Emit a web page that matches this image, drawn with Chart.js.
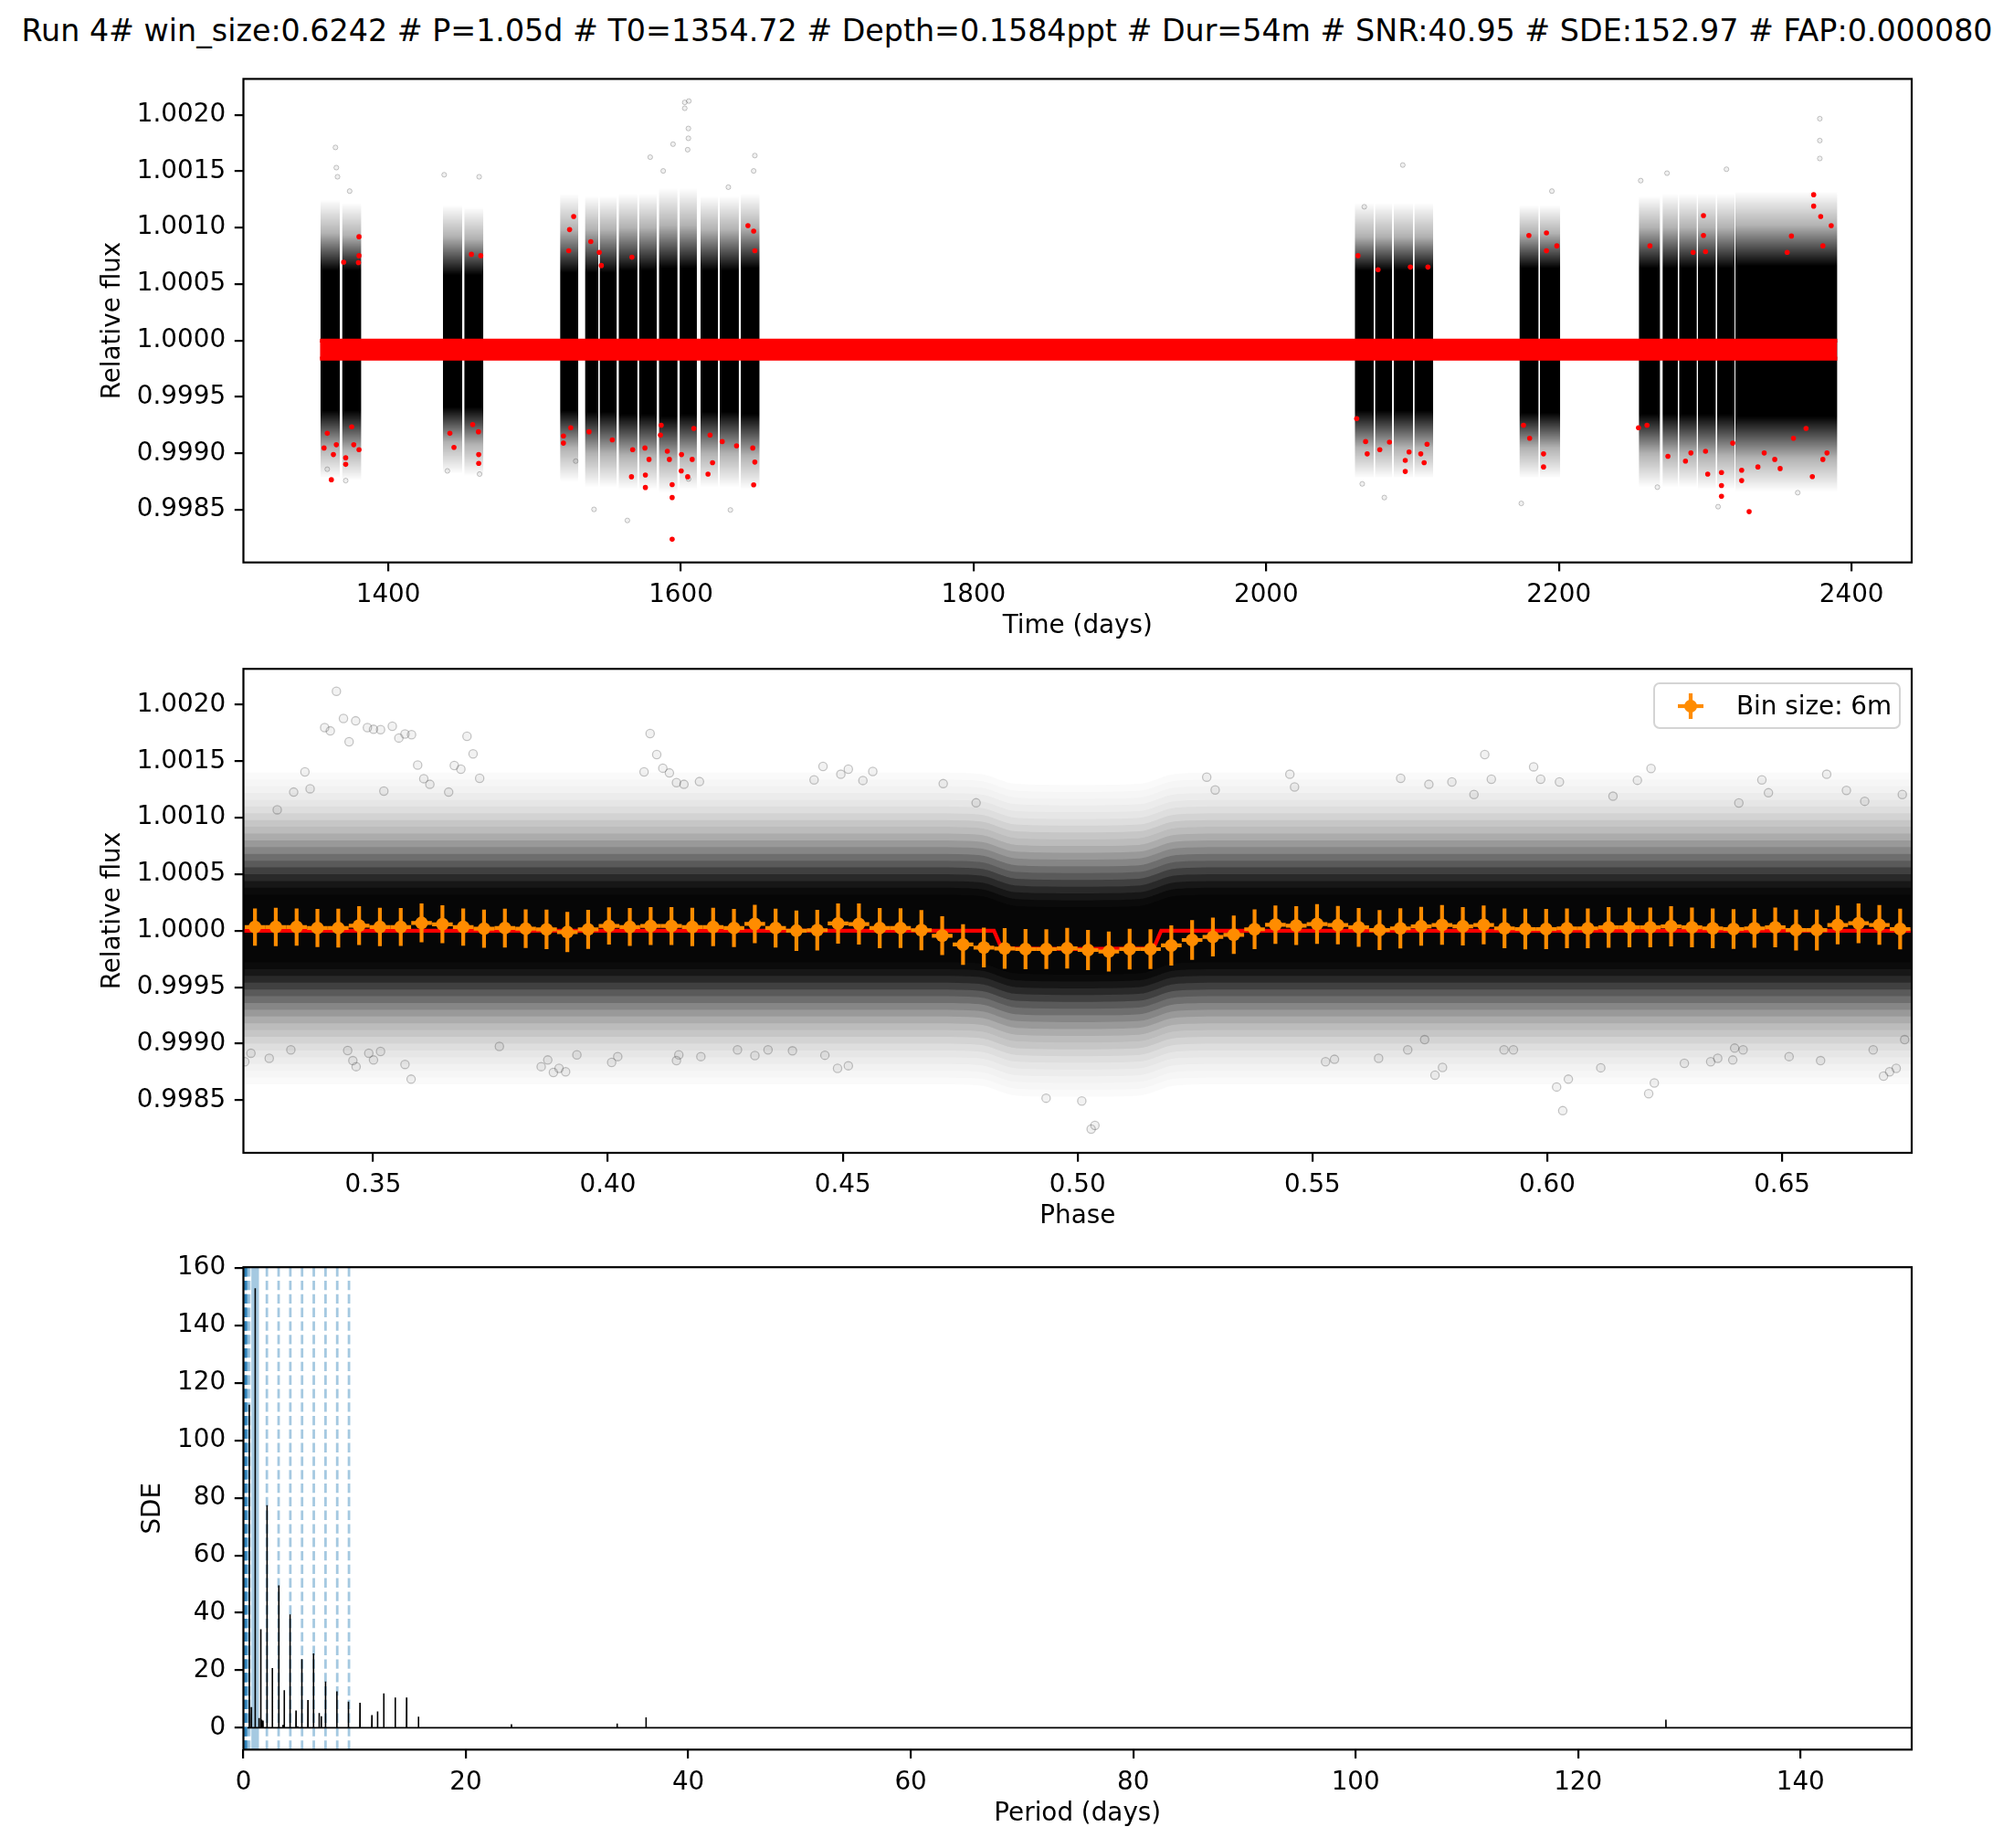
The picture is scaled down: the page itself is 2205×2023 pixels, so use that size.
<!DOCTYPE html>
<html>
<head>
<meta charset="utf-8">
<title>TLS Run 4</title>
<script src="https://cdn.jsdelivr.net/npm/chart.js@4.4.1/dist/chart.umd.min.js"></script>
<style>
  html,body{margin:0;padding:0;background:#ffffff;}
  body{width:2205px;height:2023px;position:relative;overflow:hidden;font-family:"DejaVu Sans",sans-serif;color:#000;}
  #title{position:absolute;left:0;top:14px;width:2205px;text-align:center;font-size:33.3px;line-height:40px;white-space:nowrap;}
  canvas.panel{position:absolute;left:0;}
  #legend{position:absolute;left:1810px;top:747px;width:271px;height:51px;box-sizing:border-box;border:2px solid #d4d4d4;border-radius:7px;background:rgba(255,255,255,0.85);z-index:5;}
  #legsym{position:absolute;left:18px;top:4px;}
  #legtext{position:absolute;left:89px;top:4px;font-size:27.8px;line-height:40px;white-space:nowrap;}
</style>
</head>
<body>
<div id="title">Run 4# win_size:0.6242 # P=1.05d # T0=1354.72 # Depth=0.1584ppt # Dur=54m # SNR:40.95 # SDE:152.97 # FAP:0.000080</div>
<canvas id="c1" class="panel" width="2205" height="650" style="top:59px"></canvas>
<canvas id="c2" class="panel" width="2205" height="650" style="top:705px"></canvas>
<canvas id="c3" class="panel" width="2205" height="650" style="top:1360px"></canvas>
<div id="legend"><canvas id="legsym" width="42" height="40"></canvas><span id="legtext">Bin size: 6m</span></div>
<script>
// ===================== DATA =====================
// ---- axes ----
const timeRange = [1301.0, 2441.1];
const fluxRange = [0.998034, 1.002318];
const phaseRange = [0.3224, 0.6776];
const periodRange = [0, 150];
const sdeRange = [-7.6, 160.3];
const timeTicks = [1400, 1600, 1800, 2000, 2200, 2400];
const fluxTicks = [0.9985, 0.9990, 0.9995, 1.0000, 1.0005, 1.0010, 1.0015, 1.0020];
const phaseTicks = [0.35, 0.40, 0.45, 0.50, 0.55, 0.60, 0.65];
const periodTicks = [0, 20, 40, 60, 80, 100, 120, 140];
const sdeTicks = [0, 20, 40, 60, 80, 100, 120, 140, 160];

// ---- panel 1: light curve observing segments (days) and flux density envelope ----
const segStart = [1353.6,1368.4,1437.3,1451.9,1517.4,1534.4,1544.4,1557.4,1571.3,1584.9,1599.1,1613.4,1626.5,1640.9,2060.5,2074.3,2087.1,2101.2,2173.0,2187.0,2254.6,2270.8,2282.1,2295.0,2308.0,2320.6];
const segEnd   = [1367.0,1381.6,1450.6,1465.0,1529.9,1543.6,1556.2,1570.3,1583.5,1597.7,1610.9,1625.3,1639.6,1653.8,2073.5,2086.1,2100.3,2114.1,2186.2,2200.9,2269.2,2281.3,2294.3,2307.3,2320.1,2390.3];
const segOuterHi = [1.00125,1.00122,1.00120,1.00118,1.00130,1.00128,1.00128,1.00130,1.00130,1.00135,1.00135,1.00128,1.00128,1.00130,1.00122,1.00122,1.00122,1.00122,1.00120,1.00120,1.00128,1.00130,1.00130,1.00130,1.00130,1.00132];
const segHaloHi  = [1.00095,1.00093,1.00092,1.00090,1.00098,1.00098,1.00098,1.00100,1.00100,1.00102,1.00102,1.00098,1.00098,1.00100,1.00092,1.00092,1.00092,1.00092,1.00095,1.00095,1.00100,1.00100,1.00100,1.00100,1.00100,1.00102];
const segCoreHi  = [1.00062,1.00062,1.00058,1.00058,1.00060,1.00060,1.00060,1.00062,1.00062,1.00064,1.00064,1.00062,1.00062,1.00064,1.00062,1.00062,1.00062,1.00062,1.00064,1.00064,1.00064,1.00064,1.00064,1.00064,1.00064,1.00066];
const segCoreLo  = [0.99938,0.99938,0.99941,0.99941,0.99938,0.99937,0.99937,0.99935,0.99935,0.99933,0.99935,0.99937,0.99937,0.99935,0.99938,0.99938,0.99938,0.99938,0.99936,0.99936,0.99935,0.99935,0.99935,0.99935,0.99935,0.99933];
const segHaloLo  = [0.99905,0.99903,0.99910,0.99908,0.99905,0.99900,0.99900,0.99898,0.99898,0.99895,0.99898,0.99900,0.99900,0.99898,0.99905,0.99905,0.99905,0.99905,0.99905,0.99905,0.99900,0.99900,0.99900,0.99898,0.99898,0.99896];
const segOuterLo = [0.99878,0.99876,0.99882,0.99880,0.99875,0.99870,0.99870,0.99868,0.99868,0.99865,0.99868,0.99870,0.99870,0.99868,0.99878,0.99878,0.99878,0.99878,0.99878,0.99878,0.99870,0.99870,0.99870,0.99868,0.99868,0.99866];

// sparse grey points outside the dense clouds
const p1GreyTime = [1363.9,1364.5,1365.3,1373.6,1438.2,1462.1,1602.6,1602.6,1605.4,1605.1,1605.1,1604.6,1594.6,1579.0,1587.9,1650.5,1649.7,1632.4,1633.8,1563.4,1540.6,1605.2,1358.3,1370.9,1440.4,1462.4,1528.1,2378.3,2378.3,2378.3,2093.3,2314.5,2273.9,2255.9,2067.0,2195.2,2308.8,2267.3,2080.7,2174.3,2065.6,2363.2];
const p1GreyFlux = [1.001711,1.001532,1.001451,1.001324,1.001469,1.001451,1.002058,1.002110,1.002122,1.001792,1.001879,1.001691,1.001740,1.001625,1.001503,1.001639,1.001503,1.001359,0.998499,0.998406,0.998504,0.998773,0.998860,0.998759,0.998845,0.998817,0.998932,1.001966,1.001772,1.001613,1.001555,1.001518,1.001483,1.001417,1.001185,1.001324,0.998528,0.998701,0.998609,0.998557,0.998730,0.998652];

// red (in-transit) points visible outside the dense clouds
const redTime = [1361.1,1362.5,1370.9,1370.9,1380.0,1356.1,1364.5,1376.4,1358.3,1375.0,1380.0,1380.0,1369.5,1379.6,1444.9,1461.8,1461.8,1442.1,1457.7,1461.6,1456.8,1463.2,1526.7,1523.9,1523.3,1538.4,1544.2,1545.6,1566.5,1645.8,1649.7,1650.5,1594.0,1594.0,1594.0,1575.7,1575.7,1566.2,1604.6,1600.2,1607.7,1618.5,1621.6,1649.7,1650.5,1628.2,1519.7,1519.7,1524.7,1537.2,1553.1,1578.2,1586.0,1590.7,1592.1,1600.4,1638.0,1649.1,1575.4,1567.0,1586.5,1619.9,1608.8,
  2069.0,2077.6,2084.2,2095.0,2095.0,2097.6,2107.9,2109.9,2105.6,2067.9,2061.8,2062.7,2076.4,2098.5,2110.5,2179.5,2191.5,2198.6,2191.5,2189.5,2189.5,2180.0,2175.8,2298.8,2298.8,2291.7,2300.2,2374.1,2374.1,2378.9,2386.1,2358.9,2356.0,2380.4,2262.2,2254.4,2260.2,2274.5,2286.5,2301.7,2311.1,2311.1,2311.1,2330.0,2324.9,2324.9,2336.0,2347.5,2351.2,2373.2,2383.2,2380.4,2340.3,2318.8,2300.2,2290.2,2360.3,2368.9];
const redFlux = [0.998767,0.998990,0.998903,0.998961,0.999033,0.999048,0.999077,0.999077,0.999178,0.999235,1.000920,1.000752,1.000694,1.000690,0.999053,0.998912,0.998990,0.999178,0.999256,0.999192,1.000764,1.000752,1.001099,1.000983,1.000795,1.000876,1.000781,1.000665,1.000738,1.001018,1.000969,1.000795,0.998239,0.998609,0.998724,0.998808,0.998698,0.998793,0.998793,0.998845,0.998947,0.998817,0.998918,0.998721,0.998923,0.999105,0.999091,0.999155,0.999227,0.999192,0.999120,0.998947,0.999163,0.999019,0.998947,0.998990,0.999068,0.999048,0.999048,0.999033,0.999250,0.999163,0.999221,
  0.998996,0.999033,0.999100,0.998840,0.998938,0.999013,0.998918,0.999082,0.998996,0.999105,0.999308,1.000752,1.000628,1.000651,1.000651,1.000931,1.000954,1.000839,1.000796,0.998880,0.998996,0.999134,0.999250,1.001107,1.000931,1.000781,1.000787,1.001292,1.001191,1.001099,1.001018,1.000926,1.000781,1.000839,1.000839,0.999227,0.999250,0.998975,0.998932,0.998817,0.998831,0.998715,0.998620,0.998484,0.998851,0.998759,0.998880,0.998947,0.998866,0.998794,0.999004,0.998947,0.999004,0.999091,0.999019,0.999004,0.999134,0.999221];

// transit model over the time span (out-of-transit level and in-transit level)
const modelTime = [1353.3, 2390.2];
const modelTop = [1.0, 1.0];
const modelBottom = [0.99984, 0.99984];

// ---- panel 2: phase-folded ----
const cloudPhase  = [0.3224,0.40,0.47,0.479,0.487,0.50,0.513,0.521,0.53,0.60,0.6776];
const cloudCenter = [1.00002,1.00002,1.00002,1.00001,0.99992,0.99991,0.99992,1.00001,1.00002,1.00002,1.00002];
// density of the folded cloud: half-width from the centre and how dark the cloud is inside it
const cloudLevelOffset   = [0.00138,0.00132,0.00126,0.00120,0.00114,0.00108,0.00102,0.00096,0.00090,0.00084,0.00078,0.00072,0.00066,0.00060,0.00054,0.00048,0.00042,0.00036,0.00030];
const cloudLevelDarkness = [0.02,0.04,0.06,0.085,0.11,0.14,0.18,0.23,0.28,0.34,0.41,0.49,0.58,0.67,0.77,0.86,0.93,0.97,0.99];

const p2OutPhase = [0.3422,0.3437,0.3463,0.3397,0.3409,0.3449,0.3488,0.3501,0.3516,0.3541,0.3555,0.3568,0.3582,0.3700,0.3713,0.4090,0.4104,0.3595,0.3673,0.3687,0.3727,0.3355,0.3331,0.3366,0.4117,0.4131,0.4077,0.3608,0.3621,0.3661,0.4458,0.4496,0.4512,0.4439,0.4195,0.4162,0.3523,0.3296,0.4146,
  0.3581,0.3464,0.3457,0.3446,0.3491,0.3501,0.3516,0.3568,0.3884,0.3896,0.3910,0.3858,0.3872,0.3934,0.4008,0.4021,0.4146,0.4151,0.4393,0.4489,0.4512,0.4462,0.4313,0.4198,0.4276,0.4341,0.3769,0.3279,0.3240,0.3227,0.3325,
  0.5029,0.5037,0.5009,0.4933,0.5275,0.5293,0.4714,0.4784,0.4543,0.4564,
  0.5867,0.5971,0.6221,0.6595,0.5452,0.5462,0.5688,0.5881,0.5986,0.6026,0.6192,0.6457,0.6637,0.6756,0.5844,0.6140,0.6408,0.6471,0.6676,0.5748,0.5797,
  0.6033,0.6020,0.6045,0.6216,0.6228,0.5777,0.5761,0.5641,0.5547,0.5528,0.6716,0.6729,0.6743,0.6515,0.6582,0.6694,0.6761,0.6348,0.6363,0.6395,0.6399,0.6417,0.6292,0.6114,0.5908,0.5928,0.5703,0.5739];
const p2OutFlux = [1.002119,1.001879,1.001858,1.001798,1.001769,1.001673,1.001798,1.001783,1.001780,1.001810,1.001706,1.001742,1.001736,1.001721,1.001565,1.001745,1.001559,1.001466,1.001463,1.001430,1.001349,1.001406,1.001227,1.001257,1.001439,1.001397,1.001406,1.001346,1.001296,1.001227,1.001454,1.001385,1.001430,1.001335,1.001320,1.001296,1.001236,1.001071,1.001311,
  0.998686,0.998797,0.998850,0.998940,0.998916,0.998856,0.998931,0.998817,0.998746,0.998782,0.998752,0.998797,0.998856,0.998901,0.998835,0.998886,0.998850,0.998901,0.998937,0.998782,0.998805,0.998898,0.998895,0.998886,0.998946,0.998946,0.998976,0.998871,0.998916,0.998841,0.998946,
  0.998244,0.998276,0.998493,0.998518,1.001359,1.001246,1.001302,1.001132,1.001330,1.001410,
  1.001559,1.001451,1.001436,1.001385,1.001385,1.001272,1.001349,1.001341,1.001341,1.001317,1.001332,1.001335,1.001242,1.001206,1.001206,1.001191,1.001131,1.001221,1.001146,1.001296,1.001317,
  0.998407,0.998617,0.998686,0.998557,0.998653,0.998790,0.998722,0.998871,0.998862,0.998841,0.998713,0.998752,0.998782,0.998886,0.998850,0.998946,0.999036,0.998841,0.998871,0.998856,0.998961,0.998946,0.998826,0.998787,0.998946,0.998946,0.998946,0.999036];

// binned points (6 min bins)
const binPhase = [0.32486,0.32929,0.33373,0.33816,0.34260,0.34703,0.35146,0.35590,0.36033,0.36477,0.36920,0.37363,0.37807,0.38250,0.38694,0.39137,0.39580,0.40024,0.40467,0.40911,0.41354,0.41797,0.42241,0.42684,0.43128,0.43571,0.44014,0.44458,0.44901,0.45345,0.45788,0.46231,0.46675,0.47118,0.47562,0.48005,0.48448,0.48892,0.49335,0.49779,0.50222,0.50665,0.51109,0.51552,0.51996,0.52439,0.52882,0.53326,0.53769,0.54213,0.54656,0.55099,0.55543,0.55986,0.56430,0.56873,0.57316,0.57760,0.58203,0.58647,0.59090,0.59533,0.59977,0.60420,0.60864,0.61307,0.61750,0.62194,0.62637,0.63081,0.63524,0.63967,0.64411,0.64854,0.65298,0.65741,0.66184,0.66628,0.67071,0.67514];
const binFlux = [1.000033,1.000033,1.000033,1.000024,1.000024,1.000045,1.000033,1.000033,1.000069,1.000057,1.000033,1.000018,1.000024,1.000018,1.000012,0.999988,1.000012,1.000042,1.000033,1.000042,1.000042,1.000033,1.000033,1.000024,1.000060,1.000024,1.000000,1.000005,1.000064,1.000059,1.000024,1.000024,1.000005,0.999956,0.999878,0.999851,0.999843,0.999837,0.999837,0.999845,0.999829,0.999816,0.999837,0.999837,0.999870,0.999918,0.999945,0.999964,1.000013,1.000053,1.000045,1.000059,1.000050,1.000030,1.000006,1.000021,1.000039,1.000051,1.000039,1.000051,1.000021,1.000015,1.000015,1.000021,1.000021,1.000030,1.000030,1.000030,1.000039,1.000030,1.000021,1.000015,1.000021,1.000030,1.000006,1.000006,1.000051,1.000066,1.000051,1.000015];
const binErr = [0.000165,0.000170,0.000165,0.000168,0.000172,0.000172,0.000170,0.000168,0.000172,0.000168,0.000165,0.000168,0.000172,0.000170,0.000175,0.000178,0.000172,0.000165,0.000168,0.000168,0.000168,0.000170,0.000170,0.000168,0.000170,0.000172,0.000178,0.000180,0.000178,0.000182,0.000178,0.000176,0.000178,0.000172,0.000180,0.000176,0.000180,0.000178,0.000176,0.000180,0.000178,0.000176,0.000180,0.000176,0.000178,0.000176,0.000172,0.000170,0.000176,0.000170,0.000172,0.000176,0.000170,0.000172,0.000176,0.000178,0.000172,0.000176,0.000170,0.000172,0.000176,0.000180,0.000178,0.000176,0.000176,0.000180,0.000176,0.000176,0.000178,0.000176,0.000176,0.000176,0.000172,0.000176,0.000180,0.000180,0.000172,0.000176,0.000176,0.000180];
const binHalfWidth = 0.0022;

const modelPhase = [0.3224, 0.4822, 0.4838, 0.5000, 0.5162, 0.5178, 0.6776];
const modelFlux  = [1.00000, 1.00000, 0.999845, 0.999838, 0.999845, 1.00000, 1.00000];

// ---- panel 3: periodogram ----
const sdePeriod = [0.53,0.71,1.0545,1.40,1.56,1.63,1.76,2.12,2.60,3.18,3.55,3.67,4.19,4.73,4.88,5.25,5.80,6.30,6.81,7.00,7.38,8.40,9.44,10.48,11.55,12.06,12.62,13.65,14.67,15.74,24.1,33.6,36.2,127.9];
const sdeValue  = [112.4,7.2,152.97,3.4,34.3,2.8,2.5,77.5,20.8,49.6,1.0,13.1,39.5,6.0,0.5,23.9,9.7,25.9,5.1,4.0,16.1,12.7,9.1,8.7,4.4,5.7,12.0,10.5,10.5,3.9,1.2,1.5,3.6,2.8];
const periodogramSpan = [0.35, 150];
const bestPeriod = 1.0545;
const aliasPeriods = [2.109,3.164,4.218,5.273,6.327,7.382,8.436,9.491,0.527,0.352,0.264,0.211,0.176,0.151,0.132,0.117];

// ===================== STYLE / HELPERS =====================
Chart.defaults.font.family = "'DejaVu Sans', sans-serif";
Chart.defaults.font.size = 27.8;
Chart.defaults.color = '#000';

const PX = {left: 266.5, right: 2093};
const FONT = 27.8;
const CANVAS_H = 650;
const X_AXIS_H = 86.7;

function axis(range, ticks, fmt, title, isX, fitSize) {
  return {
    type: 'linear', min: range[0], max: range[1],
    afterBuildTicks: s => { s.ticks = ticks.map(v => ({value: v})); },
    ticks: {callback: v => fmt(v), color: '#000', padding: 9.7, font: {size: FONT}, maxRotation: 0, autoSkip: false},
    grid: {display: true, drawOnChartArea: false, drawTicks: true, tickLength: 9.7, tickWidth: 2.2, tickColor: '#000', color: '#000', lineWidth: 2.2},
    border: {display: false},
    title: {display: true, text: title, color: '#000', font: {size: FONT}, padding: 0},
    afterFit: s => { if (isX) s.height = fitSize; else s.width = fitSize; }
  };
}

const framePlugin = {
  id: 'frame',
  afterDraw(chart) {
    const {ctx, chartArea: a} = chart;
    ctx.save(); ctx.strokeStyle = '#000'; ctx.lineWidth = 2.2;
    ctx.strokeRect(a.left, a.top, a.right - a.left, a.bottom - a.top);
    ctx.restore();
  }
};

function bandGradient(stops) {
  return ctx => {
    const chart = ctx.chart; const ys = chart.scales ? chart.scales.y : null;
    if (!chart.chartArea || !ys) return 'rgba(0,0,0,0.5)';
    const y0 = ys.getPixelForValue(stops[0][0]), y1 = ys.getPixelForValue(stops[stops.length - 1][0]);
    const g = chart.ctx.createLinearGradient(0, y0, 0, y1);
    stops.forEach(([v, a]) => {
      const t = Math.min(1, Math.max(0, (ys.getPixelForValue(v) - y0) / (y1 - y0)));
      g.addColorStop(t, 'rgba(0,0,0,' + a + ')');
    });
    return g;
  };
}

function baseOptions(padTop, plotH, padLeft, xAxis, yAxis) {
  return {
    responsive: false, devicePixelRatio: 1, animation: false, events: [],
    layout: {padding: {left: padLeft, right: 2205 - PX.right, top: padTop, bottom: CANVAS_H - padTop - plotH - X_AXIS_H}},
    plugins: {legend: {display: false}, tooltip: {enabled: false}},
    elements: {point: {radius: 0}, line: {tension: 0}},
    scales: {x: xAxis, y: yAxis}
  };
}

// ===================== PANEL 1 =====================
(function () {
  const ds = [];
  segStart.forEach((s, i) => {
    const e = segEnd[i];
    const stops = [[segOuterHi[i], 0], [segHaloHi[i], 0.3], [segCoreHi[i], 1], [segCoreLo[i], 1], [segHaloLo[i], 0.3], [segOuterLo[i], 0]];
    ds.push({type: 'line', data: [{x: s, y: segOuterHi[i]}, {x: e, y: segOuterHi[i]}], fill: '+1', backgroundColor: bandGradient(stops), borderWidth: 0, pointRadius: 0, order: 20});
    ds.push({type: 'line', data: [{x: s, y: segOuterLo[i]}, {x: e, y: segOuterLo[i]}], fill: false, borderWidth: 0, pointRadius: 0, order: 20});
  });
  ds.push({type: 'scatter', data: p1GreyTime.map((t, i) => ({x: t, y: p1GreyFlux[i]})), pointRadius: 2.6, pointBackgroundColor: 'rgba(0,0,0,0.06)', pointBorderColor: 'rgba(0,0,0,0.22)', pointBorderWidth: 1, order: 10});
  ds.push({type: 'scatter', data: redTime.map((t, i) => ({x: t, y: redFlux[i]})), pointRadius: 2.8, pointBackgroundColor: '#ff0000', pointBorderWidth: 0, order: 5});
  ds.push({type: 'line', data: modelTime.map((t, i) => ({x: t, y: modelTop[i]})), fill: '+1', backgroundColor: '#ff0000', borderColor: '#ff0000', borderWidth: 4.2, pointRadius: 0, borderCapStyle: 'butt', order: 1});
  ds.push({type: 'line', data: modelTime.map((t, i) => ({x: t, y: modelBottom[i]})), fill: false, borderColor: '#ff0000', borderWidth: 4.2, pointRadius: 0, borderCapStyle: 'butt', order: 1});
  new Chart(document.getElementById('c1'), {
    type: 'line', data: {datasets: ds},
    options: baseOptions(27.4, 529.3, 107.3,
      axis(timeRange, timeTicks, v => String(v), 'Time (days)', true, X_AXIS_H),
      axis(fluxRange, fluxTicks, v => v.toFixed(4), 'Relative flux', false, PX.left - 107.3)),
    plugins: [framePlugin]
  });
})();

// ===================== PANEL 2 =====================
(function () {
  const ds = [];
  let prevLight = 1;
  cloudLevelOffset.forEach((off, k) => {
    const light = 1 - cloudLevelDarkness[k];
    const alpha = 1 - light / prevLight;   // layer opacity so that stacked layers reach the level darkness
    prevLight = light;
    ds.push({type: 'line', data: cloudPhase.map((p, j) => ({x: p, y: cloudCenter[j] + off})), fill: '+1', backgroundColor: 'rgba(0,0,0,' + alpha.toFixed(4) + ')', borderWidth: 0, pointRadius: 0, cubicInterpolationMode: 'monotone', order: 30});
    ds.push({type: 'line', data: cloudPhase.map((p, j) => ({x: p, y: cloudCenter[j] - off})), fill: false, borderWidth: 0, pointRadius: 0, cubicInterpolationMode: 'monotone', order: 30});
  });
  ds.push({type: 'scatter', data: p2OutPhase.map((p, i) => ({x: p, y: p2OutFlux[i]})), pointRadius: 4.6, pointBackgroundColor: 'rgba(0,0,0,0.05)', pointBorderColor: 'rgba(0,0,0,0.22)', pointBorderWidth: 1.3, order: 20});
  ds.push({type: 'line', data: modelPhase.map((p, i) => ({x: p, y: modelFlux[i]})), fill: false, borderColor: '#ff0000', borderWidth: 4.2, pointRadius: 0, order: 5});
  const vErr = [], hErr = [];
  binPhase.forEach((p, i) => {
    const f = binFlux[i], e = binErr[i];
    vErr.push({x: p, y: f - e}, {x: p, y: f + e}, {x: p, y: null});
    hErr.push({x: p - binHalfWidth, y: f}, {x: p + binHalfWidth, y: f}, {x: p + binHalfWidth, y: null});
  });
  ds.push({type: 'line', data: vErr, spanGaps: false, fill: false, borderColor: '#ff8c00', borderWidth: 4.2, borderCapStyle: 'butt', pointRadius: 0, order: 3});
  ds.push({type: 'line', data: hErr, spanGaps: false, fill: false, borderColor: '#ff8c00', borderWidth: 4.2, borderCapStyle: 'butt', pointRadius: 0, order: 3});
  ds.push({type: 'scatter', data: binPhase.map((p, i) => ({x: p, y: binFlux[i]})), pointRadius: 7, pointBackgroundColor: '#ff8c00', pointBorderWidth: 0, order: 2});
  new Chart(document.getElementById('c2'), {
    type: 'line', data: {datasets: ds},
    options: baseOptions(27.2, 529.8, 107.3,
      axis(phaseRange, phaseTicks, v => v.toFixed(2), 'Phase', true, X_AXIS_H),
      axis(fluxRange, fluxTicks, v => v.toFixed(4), 'Relative flux', false, PX.left - 107.3)),
    plugins: [framePlugin]
  });
})();

// legend symbol (errorbar marker)
(function () {
  const c = document.getElementById('legsym').getContext('2d');
  c.strokeStyle = '#ff8c00'; c.fillStyle = '#ff8c00'; c.lineWidth = 4.2;
  c.beginPath(); c.moveTo(21, 6); c.lineTo(21, 34); c.stroke();
  c.beginPath(); c.moveTo(7, 20); c.lineTo(35, 20); c.stroke();
  c.beginPath(); c.arc(21, 20, 7, 0, Math.PI * 2); c.fill();
})();

// ===================== PANEL 3 =====================
(function () {
  const ds = [];
  const line = [{x: periodogramSpan[0], y: 0}];
  sdePeriod.forEach((p, i) => { line.push({x: p - 0.012, y: 0}, {x: p, y: sdeValue[i]}, {x: p + 0.012, y: 0}); });
  line.push({x: periodogramSpan[1], y: 0});
  ds.push({type: 'line', data: line, fill: false, borderColor: '#000', borderWidth: 1.6, pointRadius: 0, order: 1});
  ds.push({type: 'line', data: [{x: bestPeriod, y: sdeRange[0]}, {x: bestPeriod, y: sdeRange[1]}], borderColor: 'rgba(31,119,180,0.4)', borderWidth: 8.3, borderCapStyle: 'butt', pointRadius: 0, fill: false, order: 6});
  aliasPeriods.forEach(p => {
    ds.push({type: 'line', data: [{x: p, y: sdeRange[1]}, {x: p, y: sdeRange[0]}], borderColor: 'rgba(31,119,180,0.4)', borderWidth: 2.8, borderDash: [10.3, 4.5], borderCapStyle: 'butt', pointRadius: 0, fill: false, order: 5});
  });
  new Chart(document.getElementById('c3'), {
    type: 'line', data: {datasets: ds},
    options: baseOptions(27.2, 528.1, 150.6,
      axis(periodRange, periodTicks, v => String(v), 'Period (days)', true, X_AXIS_H),
      axis(sdeRange, sdeTicks, v => String(v), 'SDE', false, PX.left - 150.6)),
    plugins: [framePlugin]
  });
})();
</script>
</body>
</html>
